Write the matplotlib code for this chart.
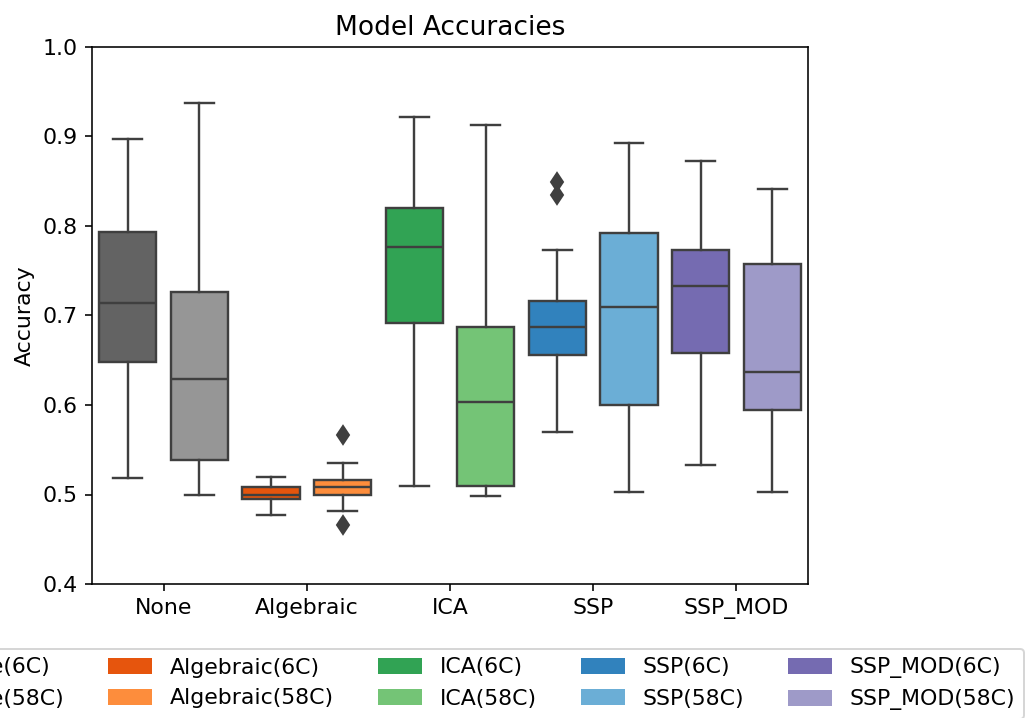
import matplotlib
matplotlib.use("Agg")
import matplotlib.pyplot as plt
from matplotlib.patches import Patch

plt.rcParams["font.size"] = 11

# categories and series
methods = ["None", "Algebraic", "ICA", "SSP", "SSP_MOD"]
conds = ["6C", "58C"]

# box statistics, one entry per method
lo_6c  = [0.518, 0.477, 0.510, 0.570, 0.533]
q1_6c  = [0.648, 0.495, 0.692, 0.656, 0.658]
med_6c = [0.714, 0.500, 0.777, 0.687, 0.733]
q3_6c  = [0.793, 0.508, 0.820, 0.716, 0.773]
hi_6c  = [0.897, 0.520, 0.922, 0.773, 0.873]
fl_6c  = [[], [], [], [0.849, 0.835], []]

lo_58c  = [0.500, 0.482, 0.498, 0.503, 0.503]
q1_58c  = [0.538, 0.500, 0.509, 0.600, 0.594]
med_58c = [0.629, 0.508, 0.603, 0.710, 0.637]
q3_58c  = [0.726, 0.516, 0.687, 0.792, 0.757]
hi_58c  = [0.937, 0.535, 0.913, 0.893, 0.841]
fl_58c  = [[], [0.567, 0.466], [], [], []]

colors_6c = ["#636363", "#e6550d", "#31a354", "#3182bd", "#756bb1"]
colors_58c = ["#969696", "#fd8d3c", "#74c476", "#6baed6", "#9e9ac8"]

line_col = "#3f3f3f"

fig = plt.figure(figsize=(1025 / 144, 718 / 144), dpi=144)
ax = fig.add_axes([92 / 1025, 134 / 718, 716 / 1025, 537 / 718])

def stats(lo, q1, med, q3, hi, fl):
    return [dict(whislo=a, q1=b, med=c, q3=d, whishi=e, fliers=f)
            for a, b, c, d, e, f in zip(lo, q1, med, q3, hi, fl)]

groups = [
    (stats(lo_6c, q1_6c, med_6c, q3_6c, hi_6c, fl_6c), colors_6c, -0.25),
    (stats(lo_58c, q1_58c, med_58c, q3_58c, hi_58c, fl_58c), colors_58c, 0.25),
]
for st, cols, off in groups:
    pos = [i + off for i in range(len(methods))]
    bp = ax.bxp(st, positions=pos, widths=0.4, patch_artist=True,
                boxprops=dict(edgecolor=line_col, linewidth=1.2),
                whiskerprops=dict(color=line_col, linewidth=1.2),
                capprops=dict(color=line_col, linewidth=1.2),
                medianprops=dict(color=line_col, linewidth=1.2),
                flierprops=dict(marker="d", markersize=6.5, markerfacecolor=line_col,
                                markeredgecolor=line_col))
    for box, c in zip(bp["boxes"], cols):
        box.set_facecolor(c)

ax.set_xticks(range(len(methods)))
ax.set_xticklabels(methods)
ax.set_xlim(-0.5, len(methods) - 0.5)
ax.set_ylim(0.4, 1.0)
ax.set_ylabel("Accuracy")
ax.set_title("Model Accuracies")

handles = []
for m, c6, c58 in zip(methods, colors_6c, colors_58c):
    handles.append(Patch(facecolor=c6, label=m + "(" + conds[0] + ")"))
    handles.append(Patch(facecolor=c58, label=m + "(" + conds[1] + ")"))
ax.legend(handles=handles, loc="upper center", bbox_to_anchor=(0.5, -0.1), ncol=5)

fig.savefig("out.png", dpi=144)
